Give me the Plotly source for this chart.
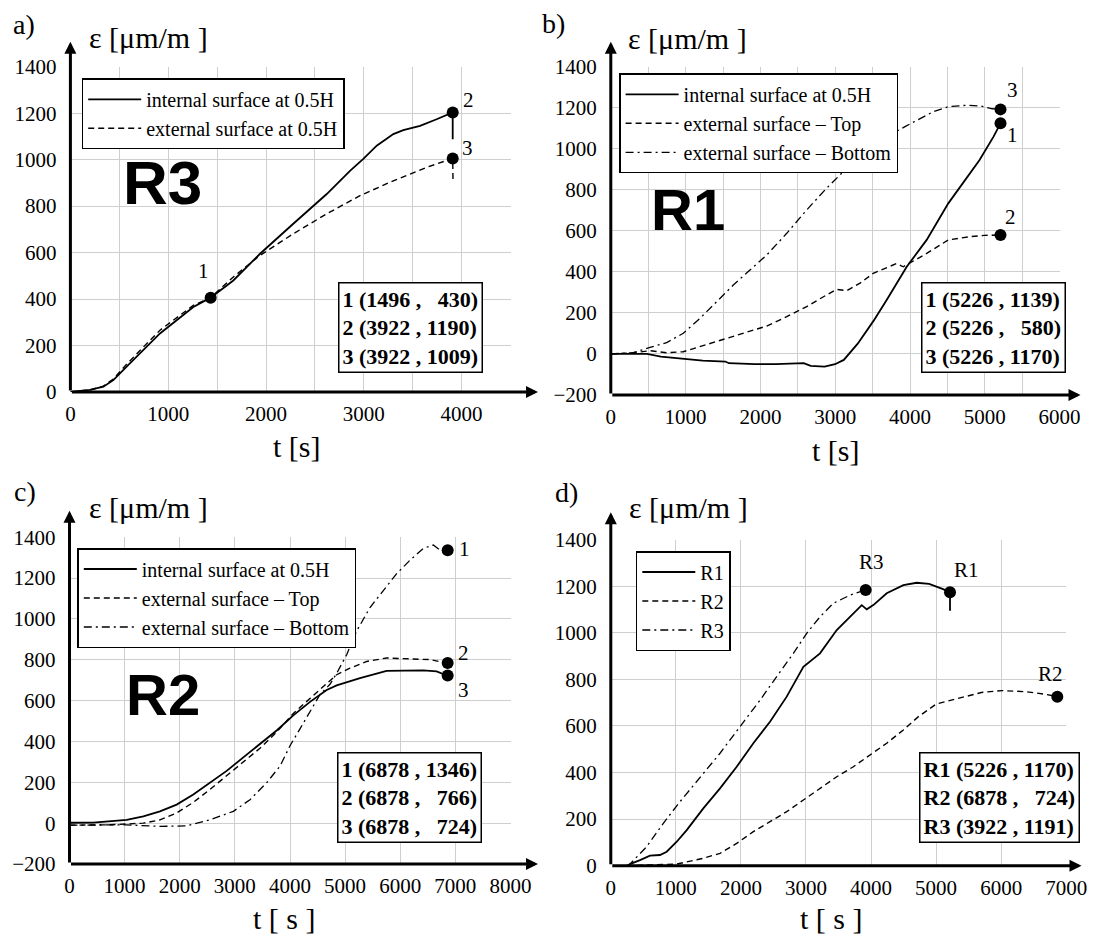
import plotly.graph_objects as go

W, H = 1093, 938
SERIF = "Liberation Serif"
SANS = "Liberation Sans"
GRID = "#cfcfcf"

# ---------------- data: panel a (R3) ----------------
R3_int_t = [0, 200, 337, 439, 575, 916, 1257, 1434, 1666, 1939, 2279, 2621, 2859, 2995, 3132, 3302, 3404, 3575, 3745, 3909, 3909]
R3_int_e = [0, 9, 23, 51, 109, 252, 366, 406, 480, 595, 724, 852, 952, 1003, 1060, 1110, 1127, 1145, 1174, 1203, 1088]
R3_ext_t = [0, 200, 337, 439, 575, 916, 1257, 1434, 1666, 1939, 2279, 2621, 2961, 3302, 3643, 3909, 3912]
R3_ext_e = [0, 9, 25, 56, 120, 266, 373, 406, 495, 588, 681, 767, 845, 909, 967, 1005, 917]
A_pts_t = [1434, 3909, 3909]
A_pts_e = [406, 1203, 1005]
A_box = ["1 (1496 ,   430)", "2 (3922 , 1190)", "3 (3922 , 1009)"]

# ---------------- data: panel b (R1) ----------------
R1_int_t = [0, 484, 670, 996, 1229, 1532, 1578, 1927, 2207, 2579, 2672, 2858, 2998, 3115, 3301, 3510, 3688, 3956, 4223, 4512, 4721, 4930, 5117, 5210]
R1_int_e = [0, 0, -13, -24, -32, -37, -45, -50, -50, -45, -58, -62, -50, -29, 50, 160, 263, 425, 556, 734, 840, 945, 1059, 1124]
R1_top_t = [0, 301, 524, 747, 969, 1193, 1416, 1638, 1861, 2084, 2352, 2619, 2886, 3020, 3154, 3332, 3509, 3822, 3910, 4223, 4512, 4814, 5000, 5210]
R1_top_e = [0, 6, 16, 6, 11, 36, 60, 84, 109, 136, 182, 231, 288, 315, 308, 345, 393, 441, 425, 490, 556, 572, 578, 580]
R1_bot_t = [0, 301, 524, 747, 969, 1193, 1416, 1638, 1861, 2084, 2352, 2619, 2886, 3198, 3550, 3933, 4312, 4512, 4750, 4950, 5100, 5210]
R1_bot_e = [0, 6, 32, 55, 101, 174, 255, 336, 409, 482, 588, 702, 808, 921, 1030, 1108, 1181, 1205, 1212, 1208, 1195, 1192]
B_pts_t = [5210, 5210, 5210]
B_pts_e = [1124, 580, 1192]
B_box = ["1 (5226 , 1139)", "2 (5226 ,   580)", "3 (5226 , 1170)"]

# ---------------- data: panel c (R2) ----------------
R2_int_t = [0, 431, 1037, 1339, 1641, 1944, 2246, 2548, 2851, 3153, 3455, 3758, 4060, 4363, 4665, 4847, 5270, 5752, 6419, 6661, 6842]
R2_int_e = [2, 3, 16, 33, 58, 91, 140, 198, 256, 322, 388, 454, 528, 594, 652, 675, 710, 746, 748, 743, 723]
R2_top_t = [0, 734, 1339, 1641, 1944, 2246, 2548, 2851, 3153, 3455, 3758, 4060, 4363, 4665, 4847, 5088, 5391, 5752, 6177, 6540, 6842]
R2_top_e = [-10, -8, 0, 16, 50, 102, 165, 231, 297, 367, 446, 537, 611, 685, 727, 759, 792, 809, 806, 801, 784]
R2_bot_t = [0, 1037, 1641, 2125, 2548, 2972, 3274, 3577, 3818, 4000, 4181, 4362, 4544, 4725, 4847, 5028, 5209, 5451, 5693, 5935, 6177, 6419, 6600, 6721, 6860]
R2_bot_e = [-10, -8, -16, -13, 16, 58, 115, 198, 279, 379, 462, 545, 630, 680, 734, 825, 941, 1056, 1139, 1222, 1288, 1346, 1362, 1337, 1337]
C_pts_t = [6860, 6860, 6860]
C_pts_e = [1337, 784, 723]
C_box = ["1 (6878 , 1346)", "2 (6878 ,   766)", "3 (6878 ,   724)"]

# ---------------- data: panel d (comparison) ----------------
D_R1_t = [250, 295, 449, 603, 756, 859, 1013, 1167, 1422, 1679, 1935, 2191, 2447, 2704, 2960, 3088, 3216, 3473, 3728, 3857, 3934, 4035, 4241, 4497, 4702, 4893, 5107, 5214, 5214]
D_R1_e = [0, 7, 24, 43, 46, 60, 103, 153, 246, 332, 425, 526, 618, 726, 854, 883, 912, 1012, 1084, 1119, 1101, 1119, 1170, 1205, 1215, 1210, 1188, 1174, 1095]
D_R2_t = [250, 654, 1013, 1422, 1679, 1935, 2191, 2447, 2704, 2960, 3216, 3473, 3728, 3985, 4241, 4497, 4728, 5000, 5321, 5696, 6017, 6392, 6660, 6863]
D_R2_e = [0, 5, 7, 32, 53, 96, 146, 189, 232, 282, 332, 382, 425, 475, 526, 583, 640, 694, 716, 744, 752, 747, 737, 726]
D_R3_t = [250, 295, 552, 807, 1064, 1422, 1679, 1986, 2294, 2550, 2806, 3011, 3216, 3421, 3677, 3918, 3918]
D_R3_e = [0, 7, 82, 182, 275, 397, 483, 597, 711, 812, 912, 998, 1069, 1127, 1162, 1184, 1148]
D_pts_t = [3918, 5214, 6863]
D_pts_e = [1184, 1174, 726]
D_pts_lab = ["R3", "R1", "R2"]
D_box = ["R1 (5226 , 1170)", "R2 (6878 ,   724)", "R3 (3922 , 1191)"]


def fx(p):
    return p / W


def fy(p):
    return 1 - p / H


# panel geometry in window pixels: x=(left, right), y=(bottom, top)
PANELS = {
    "a": dict(x=(70.4, 510.5), y=(392.0, 66.7), xr=[0, 4500], yr=[0, 1400], minor=500, ax="x", ay="y"),
    "b": dict(x=(610.8, 1059.6), y=(395.0, 66.7), xr=[0, 6000], yr=[-200, 1400], minor=500, ax="x2", ay="y2"),
    "c": dict(x=(69.5, 510.5), y=(864.0, 537.3), xr=[0, 8000], yr=[-200, 1400], minor=None, ax="x3", ay="y3"),
    "d": dict(x=(610.8, 1066.2), y=(865.7, 539.7), xr=[0, 7000], yr=[0, 1400], minor=None, ax="x4", ay="y4"),
}

fig = go.Figure()
layout = dict(width=W, height=H, autosize=False, margin=dict(l=0, r=0, t=0, b=0, pad=0, autoexpand=False),
              paper_bgcolor="white", plot_bgcolor="white", showlegend=True, template="none")

for key, P in PANELS.items():
    xname = "xaxis" + P["ax"][1:]
    yname = "yaxis" + P["ay"][1:]
    xa = dict(domain=[fx(P["x"][0]), fx(P["x"][1])], range=P["xr"], dtick=1000, tick0=0,
              showgrid=True, gridcolor=GRID, gridwidth=1, zeroline=False, showline=False,
              ticks="", tickfont=dict(family=SERIF, size=21, color="black"), automargin=False,
              anchor=P["ay"], fixedrange=True, ticklabelstandoff=7)
    if P["minor"]:
        xa["minor"] = dict(dtick=P["minor"], tick0=0, showgrid=True, gridcolor=GRID, gridwidth=1)
    ya = dict(domain=[fy(P["y"][0]), fy(P["y"][1])], range=P["yr"], dtick=200, tick0=0,
              showgrid=True, gridcolor=GRID, gridwidth=1, zeroline=False, showline=False,
              ticks="", tickfont=dict(family=SERIF, size=21, color="black"), automargin=False,
              anchor=P["ax"], fixedrange=True, ticklabelstandoff=13)
    layout[xname] = xa
    layout[yname] = ya

SOLID = dict(color="black", width=1.8)
DASH = dict(color="black", width=1.4, dash="6px,4px")
DASHDOT = dict(color="black", width=1.3, dash="8px,4px,2px,4px")


def line(t, e, name, style, ax, ay, leg):
    fig.add_trace(go.Scatter(x=t, y=e, mode="lines", name=name, line=style,
                             xaxis=ax, yaxis=ay, legend=leg, hoverinfo="skip"))


def pts(t, e, ax, ay):
    fig.add_trace(go.Scatter(x=t, y=e, mode="markers", showlegend=False,
                             marker=dict(color="black", size=12), xaxis=ax, yaxis=ay, hoverinfo="skip"))


# panel a
line(R3_int_t, R3_int_e, "internal surface at 0.5H", SOLID, "x", "y", "legend")
line(R3_ext_t, R3_ext_e, "external surface at 0.5H", DASH, "x", "y", "legend")
pts(A_pts_t, A_pts_e, "x", "y")
# panel b
line(R1_int_t, R1_int_e, "internal surface at 0.5H", SOLID, "x2", "y2", "legend2")
line(R1_top_t, R1_top_e, "external surface – Top", DASH, "x2", "y2", "legend2")
line(R1_bot_t, R1_bot_e, "external surface – Bottom", DASHDOT, "x2", "y2", "legend2")
pts(B_pts_t, B_pts_e, "x2", "y2")
# panel c
line(R2_int_t, R2_int_e, "internal surface at 0.5H", SOLID, "x3", "y3", "legend3")
line(R2_top_t, R2_top_e, "external surface – Top", DASH, "x3", "y3", "legend3")
line(R2_bot_t, R2_bot_e, "external surface – Bottom", DASHDOT, "x3", "y3", "legend3")
pts(C_pts_t, C_pts_e, "x3", "y3")
# panel d
line(D_R1_t, D_R1_e, "R1", SOLID, "x4", "y4", "legend4")
line(D_R2_t, D_R2_e, "R2", DASH, "x4", "y4", "legend4")
line(D_R3_t, D_R3_e, "R3", DASHDOT, "x4", "y4", "legend4")
pts(D_pts_t, D_pts_e, "x4", "y4")


def legend_at(px, py):
    return dict(x=fx(px), y=fy(py), xanchor="left", yanchor="top", xref="paper", yref="paper",
                bgcolor="white", bordercolor="black", borderwidth=1.5,
                font=dict(family=SERIF, size=20, color="black"), tracegroupgap=0,
                itemwidth=53)


layout["legend"] = legend_at(81.7, 78.3)
layout["legend2"] = legend_at(619.1, 73.3)
layout["legend3"] = legend_at(77.3, 548.0)
layout["legend4"] = legend_at(635.8, 551.0)

ann = []


def text(px, py, s, size, family=SERIF, xanchor="center"):
    ann.append(dict(x=fx(px), y=fy(py), xref="paper", yref="paper", text=s, showarrow=False,
                    xanchor=xanchor, yanchor="middle", font=dict(family=family, size=size, color="black")))


def axis_arrows(ox, oy, xtip, ytip):
    ann.append(dict(x=fx(xtip), y=fy(oy), xref="paper", yref="paper", text="", showarrow=True,
                    axref="pixel", ayref="pixel", ax=ox - xtip, ay=0, arrowhead=2, arrowsize=0.8,
                    arrowwidth=3, arrowcolor="black", standoff=0))
    ann.append(dict(x=fx(ox), y=fy(ytip), xref="paper", yref="paper", text="", showarrow=True,
                    axref="pixel", ayref="pixel", ax=0, ay=oy - ytip, arrowhead=2, arrowsize=0.8,
                    arrowwidth=3, arrowcolor="black", standoff=0))


axis_arrows(70.4, 392.0, 538.0, 41.7)
axis_arrows(610.8, 395.0, 1080.5, 41.7)
axis_arrows(69.5, 864.0, 538.0, 510.7)
axis_arrows(610.8, 865.7, 1081.5, 512.3)

# panel letters
text(24, 25, "a)", 28)
text(553, 23, "b)", 28)
text(25, 491, "c)", 28)
text(566, 492, "d)", 28)

# y-axis titles
for (px, py) in [(87, 37), (626, 38), (87, 507), (627, 507)]:
    text(px, py, "ε [μm/m ]", 30, xanchor="left")
# x-axis titles
text(296.7, 447, "t [s]", 30)
text(835.7, 450, "t [s]", 30)
text(284.5, 918, "t [ s ]", 30)
text(831.5, 918, "t [ s ]", 30)

# big specimen labels
text(162.5, 183, "<b>R3</b>", 62, family=SANS)
text(687.5, 209, "<b>R1</b>", 58, family=SANS)
text(162.5, 694, "<b>R2</b>", 58, family=SANS)


def point_labels(ts, es, labs, shifts, xref, yref):
    for t, e, s, (dx, dy) in zip(ts, es, labs, shifts):
        ann.append(dict(x=t, y=e, xref=xref, yref=yref, text=s, showarrow=False,
                        xshift=dx, yshift=dy, xanchor="center", yanchor="middle",
                        font=dict(family=SERIF, size=21, color="black")))


point_labels(A_pts_t, A_pts_e, ["1", "2", "3"], [(-7, 27), (16, 12), (15, 10)], "x", "y")
point_labels(B_pts_t, B_pts_e, ["1", "2", "3"], [(12, -12), (10, 18), (12, 19)], "x2", "y2")
point_labels(C_pts_t, C_pts_e, ["1", "2", "3"], [(17, 1), (16, 10), (16, -14)], "x3", "y3")
point_labels(D_pts_t, D_pts_e, D_pts_lab, [(6, 28), (16, 22), (-7, 23)], "x4", "y4")


def box(px, py, lines):
    s = "<br>".join("<b>" + l.replace(" ", "\u00a0") + "</b>" for l in lines)
    ann.append(dict(x=fx(px), y=fy(py), xref="paper", yref="paper", text=s, showarrow=False,
                    xanchor="left", yanchor="top", align="left", bgcolor="white",
                    bordercolor="black", borderwidth=1.5, borderpad=3,
                    font=dict(family=SERIF, size=22, color="black")))


box(338, 282, A_box)
box(921.4, 281.7, B_box)
box(337, 752.3, C_box)
box(918.6, 752.3, D_box)

layout["annotations"] = ann
fig.update_layout(**layout)
# the page body normally has an 8px margin; remove it so the 1093x938 figure fills the window
fig.write_html("out.html", config={"displayModeBar": False, "staticPlot": True},
               post_script="document.body.style.margin='0px';document.body.style.overflow='hidden';")
